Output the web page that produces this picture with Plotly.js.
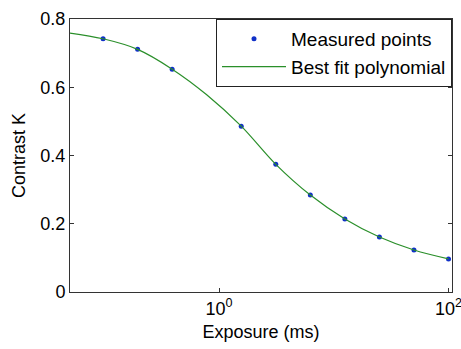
<!DOCTYPE html>
<html>
<head>
<meta charset="utf-8">
<script src="https://cdn.plot.ly/plotly-3.0.1.min.js"></script>
<style>html,body{margin:0;padding:0;background:#fff;}#chart{width:461px;height:349px;}</style>
</head>
<body>
<div id="chart"></div>
<script>
// Measured points
const exposure = [0.09765625, 0.1953125, 0.390625, 1.5625, 3.125, 6.25, 12.5, 25, 50, 100];
const contrast = [0.742, 0.711, 0.653, 0.486, 0.374, 0.284, 0.214, 0.161, 0.123, 0.097];
// Best fit polynomial
const fitExposure = [0.05, 0.09765625, 0.1953125, 0.390625, 0.78125, 1.5625, 3.125, 6.25, 12.5, 25, 50, 100];
const fitContrast = [0.759, 0.742, 0.711, 0.653, 0.578, 0.486, 0.374, 0.284, 0.214, 0.161, 0.123, 0.097];
// Tick labels
const xTickVals = [1, 100];
const xTickText = ['10<sup>0</sup>', '10<sup>2</sup>'];
const yTickVals = [0, 0.2, 0.4, 0.6, 0.8];
const yTickText = ['0', '0.2', '0.4', '0.6', '0.8'];

const font = 'Liberation Sans, Arial, sans-serif';

const traces = [
  {
    x: exposure, y: contrast, type: 'scatter', mode: 'markers', name: 'Measured points',
    marker: {color: '#1030c8', size: 5}
  },
  {
    x: fitExposure, y: fitContrast, type: 'scatter', mode: 'lines', name: 'Best fit polynomial',
    line: {color: '#2a8f2a', width: 1.2, shape: 'spline', smoothing: 1}
  }
];

const axisCommon = {
  showline: true, linecolor: '#333', linewidth: 1, mirror: 'ticks',
  ticks: 'inside', ticklen: 4, tickcolor: '#333', showgrid: false, zeroline: false,
  tickfont: {family: font, size: 18, color: '#000'},
  ticklabeloverflow: 'allow'
};

const layout = {
  width: 461, height: 349,
  margin: {l: 70, r: 9, t: 19, b: 57},
  paper_bgcolor: '#fff', plot_bgcolor: '#fff',
  showlegend: true,
  legend: {
    x: 1, y: 1, xanchor: 'right', yanchor: 'top',
    bordercolor: '#222', borderwidth: 1, bgcolor: '#fff',
    font: {family: font, size: 19, color: '#000'},
    itemwidth: 64, tracegroupgap: 0
  },
  xaxis: Object.assign({}, axisCommon, {
    type: 'log', range: [-1.2985, 2.0305],
    tickvals: xTickVals, ticktext: xTickText,
    title: {text: 'Exposure (ms)', font: {family: font, size: 18, color: '#000'}, standoff: 7}
  }),
  yaxis: Object.assign({}, axisCommon, {
    range: [0, 0.8],
    tickvals: yTickVals, ticktext: yTickText,
    title: {text: 'Contrast K', font: {family: font, size: 18, color: '#000'}, standoff: 10}
  })
};

Plotly.newPlot('chart', traces, layout, {displayModeBar: false, staticPlot: true});
</script>
</body>
</html>
